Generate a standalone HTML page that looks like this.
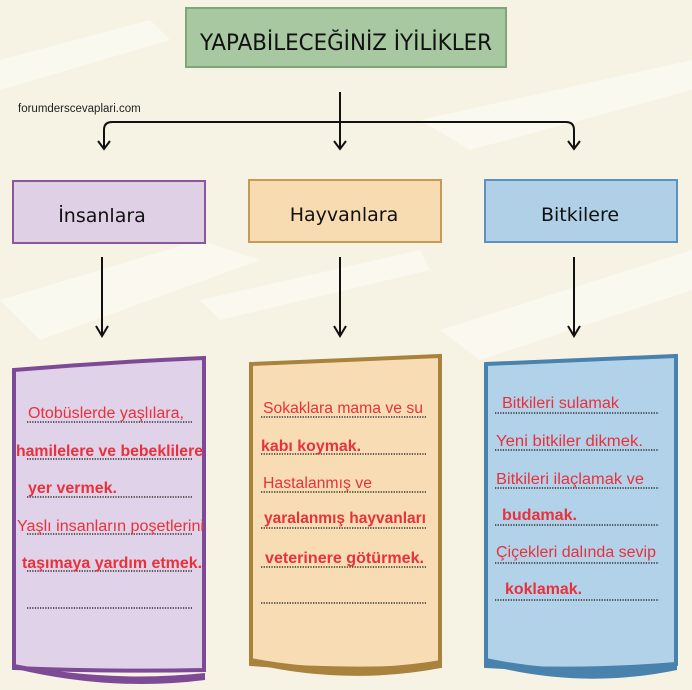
<!DOCTYPE html>
<html><head><meta charset="utf-8"><style>
html,body{margin:0;padding:0;background:#f6f3e4;}
svg{display:block}
.t{font-family:"Liberation Sans",sans-serif;font-size:15.5px;fill:#e8313c;}
.b{font-weight:bold}
.h{font-family:"DejaVu Sans","Liberation Sans",sans-serif;font-size:19px;fill:#111;}
.dl{stroke:#333;stroke-width:1.6;stroke-dasharray:1.3 1.3;}
</style></head><body>
<svg width="692" height="690" viewBox="0 0 692 690" xmlns="http://www.w3.org/2000/svg">
<rect width="692" height="690" fill="#f6f3e4"/>
<g fill="#fbfaf2" opacity="0.8">
<path d="M0 300 L200 240 L260 260 L40 340Z"/>
<path d="M420 120 L692 60 L692 90 L470 150Z"/>
<path d="M440 330 L692 250 L692 290 L480 360Z"/>
<path d="M0 60 L150 20 L170 40 L0 90Z"/>
<path d="M200 300 L420 250 L430 270 L220 320Z"/>
</g>
<!-- title -->
<rect x="186" y="8" width="320" height="59" fill="#a7c8a1" stroke="#7fa678" stroke-width="2"/>
<text x="346" y="50" text-anchor="middle" class="h" style="font-size:22px" textLength="292" lengthAdjust="spacingAndGlyphs">YAPABİLECEĞİNİZ İYİLİKLER</text>
<text x="18" y="112" font-family="Liberation Sans,sans-serif" font-size="11.5" fill="#222">forumderscevaplari.com</text>
<!-- connectors -->
<g stroke="#111" stroke-width="2" fill="none">
<line x1="340" y1="92" x2="340" y2="148"/>
<path d="M104 148 V130 Q104 122 112 122 H566 Q574 122 574 130 V148"/>
<path d="M98 141 L104 149 L110 141 M334 141 L340 149 L346 141 M568 141 L574 149 L580 141"/>
<line x1="102" y1="257" x2="102" y2="336"/>
<line x1="340" y1="257" x2="340" y2="336"/>
<line x1="574" y1="257" x2="574" y2="336"/>
<path d="M96 326 L102 336 L108 326 M334 326 L340 336 L346 326 M568 326 L574 336 L580 326"/>
</g>
<!-- category boxes -->
<rect x="13" y="181" width="192" height="62" fill="#e0d0e6" stroke="#8b56a0" stroke-width="2"/>
<text x="102" y="222" text-anchor="middle" class="h">İnsanlara</text>
<rect x="249" y="180" width="192" height="62" fill="#f7dcb2" stroke="#c49a55" stroke-width="2"/>
<text x="344" y="221" text-anchor="middle" class="h">Hayvanlara</text>
<rect x="485" y="180" width="192" height="62" fill="#b0d0e8" stroke="#5b93c0" stroke-width="2"/>
<text x="580" y="221" text-anchor="middle" class="h">Bitkilere</text>
<!-- panels -->
<path d="M14 370 Q110 362 204 358 L204 670 Q110 672 14 668 Z" fill="#e0d2e8" stroke="#7e4a96" stroke-width="4"/>
<path d="M12 668 Q110 692 205 680 L205 673 Q110 683 14 664Z" fill="#7e4a96"/>
<path d="M251 364 Q345 360 440 356 L440 666 Q345 672 251 664 Z" fill="#f8ddb4" stroke="#a9823e" stroke-width="4"/>
<path d="M249 663 Q345 686 441 668 L441 660 Q345 676 251 658Z" fill="#a9823e"/>
<path d="M486 364 Q580 360 676 356 L676 664 Q580 672 486 666 Z" fill="#b2d2ea" stroke="#4a82ae" stroke-width="4"/>
<path d="M484 664 Q580 690 677 670 L677 662 Q580 678 486 658Z" fill="#4a82ae"/>
<!-- lines -->
<g class="dl">
<line x1="27" y1="422" x2="192" y2="422"/><line x1="27" y1="459" x2="192" y2="459"/>
<line x1="27" y1="497" x2="192" y2="497"/><line x1="27" y1="534" x2="192" y2="534"/>
<line x1="27" y1="571" x2="192" y2="571"/><line x1="27" y1="608" x2="192" y2="608"/>
<line x1="261" y1="417" x2="426" y2="417"/><line x1="261" y1="454" x2="426" y2="454"/>
<line x1="261" y1="492" x2="426" y2="492"/><line x1="261" y1="528" x2="426" y2="528"/>
<line x1="261" y1="567" x2="426" y2="567"/><line x1="261" y1="603" x2="426" y2="603"/>
<line x1="495" y1="413" x2="659" y2="413"/><line x1="495" y1="450" x2="659" y2="450"/>
<line x1="495" y1="488" x2="659" y2="488"/><line x1="495" y1="525" x2="659" y2="525"/>
<line x1="495" y1="563" x2="659" y2="563"/><line x1="495" y1="600" x2="659" y2="600"/>
</g>
<g lengthAdjust="spacingAndGlyphs">
<text x="28" y="418" class="t" textLength="156" lengthAdjust="spacingAndGlyphs">Otobüslerde yaşlılara,</text>
<text x="16" y="456" class="t b" textLength="187" lengthAdjust="spacingAndGlyphs">hamilelere ve bebeklilere</text>
<text x="28" y="493" class="t b" textLength="89" lengthAdjust="spacingAndGlyphs">yer vermek.</text>
<text x="17" y="531" class="t" textLength="187" lengthAdjust="spacingAndGlyphs">Yaşlı insanların poşetlerini</text>
<text x="22" y="568" class="t b" textLength="180" lengthAdjust="spacingAndGlyphs">taşımaya yardım etmek.</text>
<text x="263" y="413" class="t" textLength="160" lengthAdjust="spacingAndGlyphs">Sokaklara mama ve su</text>
<text x="261" y="451" class="t b" textLength="100" lengthAdjust="spacingAndGlyphs">kabı koymak.</text>
<text x="263" y="488" class="t" textLength="109" lengthAdjust="spacingAndGlyphs">Hastalanmış ve</text>
<text x="264" y="523" class="t b" textLength="162" lengthAdjust="spacingAndGlyphs">yaralanmış hayvanları</text>
<text x="265" y="563" class="t b" textLength="159" lengthAdjust="spacingAndGlyphs">veterinere götürmek.</text>
<text x="502" y="408" class="t" textLength="117" lengthAdjust="spacingAndGlyphs">Bitkileri sulamak</text>
<text x="496" y="446" class="t" textLength="147" lengthAdjust="spacingAndGlyphs">Yeni bitkiler dikmek.</text>
<text x="496" y="484" class="t" textLength="148" lengthAdjust="spacingAndGlyphs">Bitkileri ilaçlamak ve</text>
<text x="502" y="520" class="t b" textLength="75" lengthAdjust="spacingAndGlyphs">budamak.</text>
<text x="496" y="557" class="t" textLength="160" lengthAdjust="spacingAndGlyphs">Çiçekleri dalında sevip</text>
<text x="505" y="594" class="t b" textLength="77" lengthAdjust="spacingAndGlyphs">koklamak.</text>
</g>
</svg>
</body></html>
